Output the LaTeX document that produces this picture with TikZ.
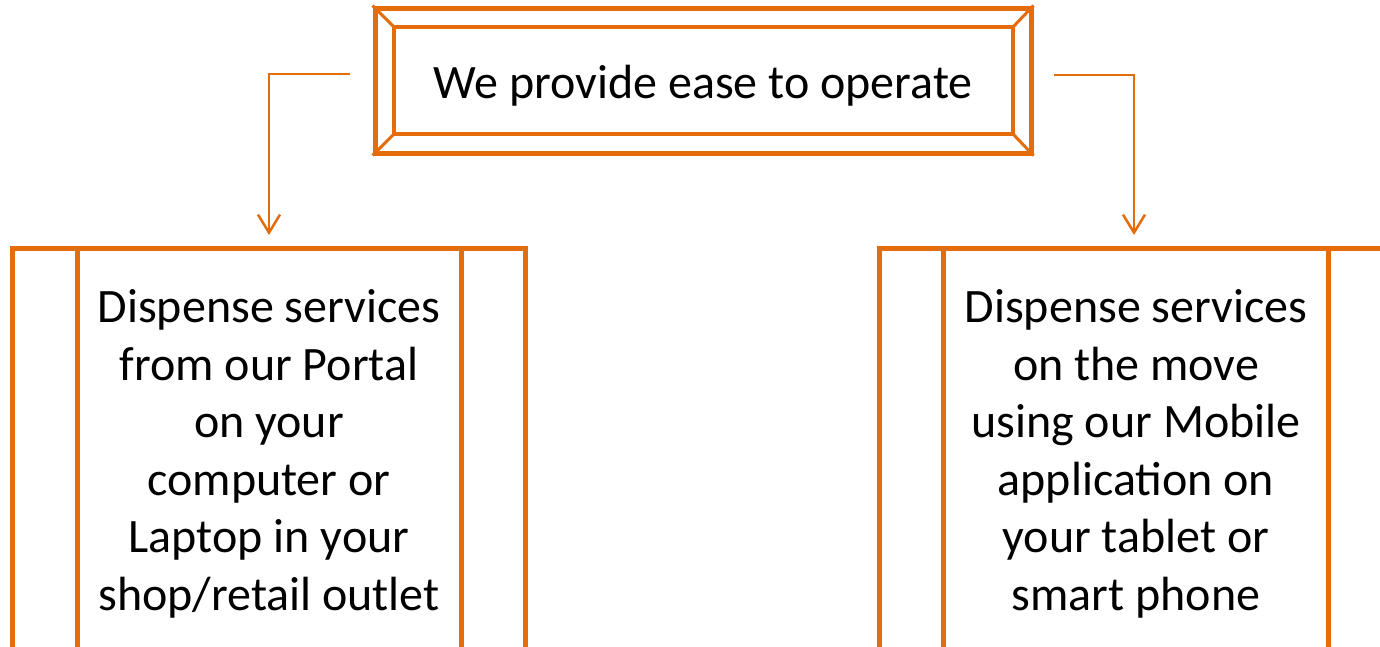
\documentclass[tikz,border=0pt]{standalone}
\usepackage{fontspec}
\setmainfont{Carlito}
\usetikzlibrary{arrows.meta,calc}
\definecolor{org}{HTML}{E46C0A}
\begin{document}
\begin{tikzpicture}[x=1pt,y=-1pt,
  frame/.style={draw=org,line width=5pt,line join=miter},
  thin/.style={draw=org,line width=3pt},
  conn/.style={draw=org,line width=2.5pt,-{Straight Barb[length=18pt,width=22pt,line width=2.5pt]}},
  txt/.style={font=\fontsize{48}{57.5}\selectfont,align=center,text=black,inner sep=0pt}]
\useasboundingbox (0,0) rectangle (1380,646);
\clip (0,0) rectangle (1380,646);
% top box
\node[frame,minimum width=656pt,minimum height=145pt,inner sep=0pt] (top) at (703,80.5) {};
\node[txt] (toptxt) at (703,86) {We provide ease to operate};
\coordinate (i1) at (394,27);
\coordinate (i2) at (1013,27);
\coordinate (i3) at (1013,134);
\coordinate (i4) at (394,134);
\draw[frame,line width=4.5pt] (i1) rectangle (i3);
\draw[thin] (top.north west) -- (i1);
\draw[thin] (top.north east) -- (i2);
\draw[thin] (top.south east) -- (i3);
\draw[thin] (top.south west) -- (i4);
% bottom boxes
\node[txt] (L) at (269,454) {Dispense services\\from our Portal\\on your\\computer or\\Laptop in your\\shop/retail outlet};
\node[txt] (R) at (1136,454) {Dispense services\\on the move\\using our Mobile\\application on\\your tablet or\\smart phone};
\draw[frame] (12,660) -- (12,248) -- (525,248) -- (525,660);
\draw[frame] (77,248) -- (77,660);
\draw[frame] (461,248) -- (461,660);
\draw[frame] (879,660) -- (879,248) -- (1400,248);
\draw[frame] (943,248) -- (943,660);
\draw[frame] (1328,248) -- (1328,660);
\coordinate (Ltop) at (269,235);
\coordinate (Rtop) at (1134,235);
% connectors
\coordinate (ls) at (350,74);
\coordinate (rs) at (1054,75);
\draw[conn] (ls) -- (269,74) -- (Ltop);
\draw[conn] (rs) -- (1134,75) -- (Rtop);
\end{tikzpicture}
\end{document}
